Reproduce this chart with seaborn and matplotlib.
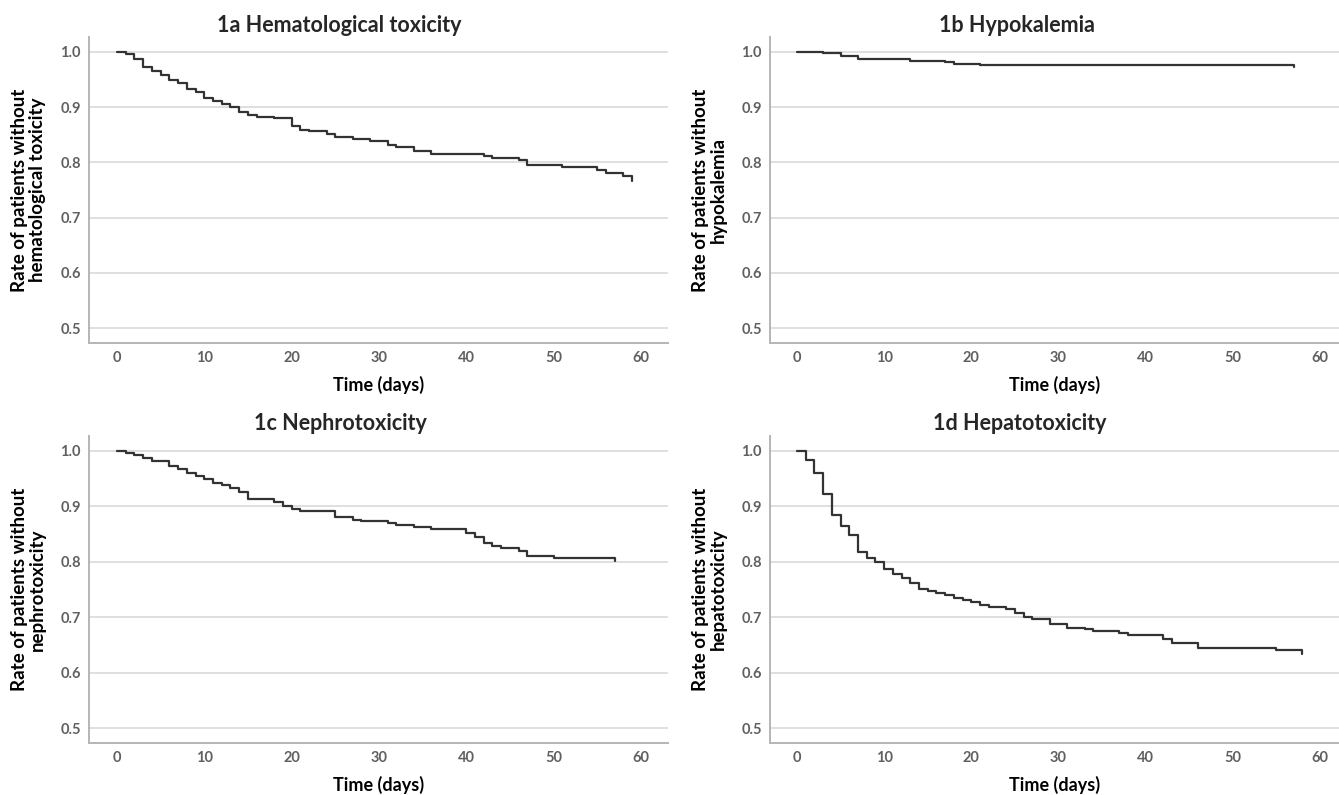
import pandas as pd
import matplotlib
matplotlib.use('Agg')
import matplotlib.pyplot as plt
import seaborn as sns

# Kaplan-Meier step values (day of step, survival after step)
hema_days = [0, 1, 2, 3, 4, 5, 6, 7, 8, 9, 10, 11, 12, 13, 14, 15, 16, 18, 20, 21, 22, 24, 25,
             27, 29, 31, 32, 34, 36, 42, 43, 46, 47, 51, 55, 56, 58, 59]
hema_surv = [1.0, 0.996, 0.987, 0.973, 0.966, 0.958, 0.949, 0.943, 0.933, 0.927, 0.916, 0.912,
             0.906, 0.900, 0.892, 0.886, 0.883, 0.880, 0.866, 0.859, 0.856, 0.851, 0.846, 0.843,
             0.839, 0.831, 0.827, 0.821, 0.815, 0.811, 0.808, 0.804, 0.795, 0.791, 0.786, 0.780,
             0.776, 0.767]

hypo_days = [0, 3, 5, 7, 13, 14, 17, 18, 21, 57]
hypo_surv = [1.0, 0.998, 0.992, 0.988, 0.984, 0.983, 0.981, 0.979, 0.976, 0.972]

nephro_days = [0, 1, 2, 3, 4, 6, 7, 8, 9, 10, 11, 12, 13, 14, 15, 18, 19, 20, 21, 25, 27, 28,
               31, 32, 34, 36, 40, 41, 42, 43, 44, 46, 47, 50, 57]
nephro_surv = [1.0, 0.997, 0.993, 0.987, 0.982, 0.973, 0.967, 0.961, 0.955, 0.949, 0.942, 0.938,
               0.934, 0.926, 0.913, 0.908, 0.901, 0.896, 0.892, 0.881, 0.876, 0.873, 0.870, 0.866,
               0.863, 0.860, 0.852, 0.845, 0.834, 0.829, 0.825, 0.820, 0.811, 0.807, 0.802]

hepato_days = [0, 1, 2, 3, 4, 5, 6, 7, 8, 9, 10, 11, 12, 13, 14, 15, 16, 17, 18, 19, 20, 21, 22,
               24, 25, 26, 27, 29, 31, 33, 34, 37, 38, 42, 43, 46, 55, 58]
hepato_surv = [1.0, 0.984, 0.960, 0.923, 0.884, 0.864, 0.848, 0.817, 0.807, 0.799, 0.787, 0.778,
               0.771, 0.762, 0.751, 0.747, 0.743, 0.740, 0.735, 0.731, 0.727, 0.722, 0.718, 0.715,
               0.707, 0.701, 0.697, 0.688, 0.681, 0.678, 0.675, 0.672, 0.667, 0.661, 0.653, 0.645,
               0.641, 0.634]

titles = ['1a Hematological toxicity', '1b Hypokalemia', '1c Nephrotoxicity', '1d Hepatotoxicity']
ylabels = ['Rate of patients without\nhematological toxicity',
           'Rate of patients without\nhypokalemia',
           'Rate of patients without\nnephrotoxicity',
           'Rate of patients without\nhepatotoxicity']
xticks = [0, 10, 20, 30, 40, 50, 60]
yticks = [0.5, 0.6, 0.7, 0.8, 0.9, 1.0]

series = [(hema_days, hema_surv), (hypo_days, hypo_surv),
          (nephro_days, nephro_surv), (hepato_days, hepato_surv)]

sns.set_style('whitegrid')
plt.rcParams['font.family'] = ['Lato', 'DejaVu Sans']

W, H = 1339, 795
fig = plt.figure(figsize=(W / 100, H / 100), dpi=100)

# panel boxes in pixels: left, top, right, bottom
boxes = [(89, 37, 668, 343), (770, 37, 1339, 343),
         (89, 436, 668, 743), (770, 436, 1339, 743)]
xlims = [(-3.2, 63.1), (-3.1, 62.2), (-3.2, 63.1), (-3.1, 62.2)]
title_pos = [(339, 25), (1017, 25), (340, 424), (1020, 424)]

for i, (days, surv) in enumerate(series):
    l, t, r, b = boxes[i]
    ax = fig.add_axes([l / W, 1 - b / H, (r - l) / W, (b - t) / H])
    df = pd.DataFrame({'day': days, 'surv': surv})
    sns.lineplot(data=df, x='day', y='surv', drawstyle='steps-post',
                 color='#333333', linewidth=1.6, ax=ax)
    ax.set_xlim(*xlims[i])
    ax.set_ylim(0.473, 1.027)
    ax.set_xticks(xticks)
    ax.set_yticks(yticks)
    ax.set_yticklabels([f'{v:.1f}' for v in yticks])
    ax.grid(axis='x', visible=False)
    ax.grid(axis='y', color='#d9d9d9', linewidth=1.2)
    for side in ['top', 'right']:
        ax.spines[side].set_visible(False)
    for side in ['left', 'bottom']:
        ax.spines[side].set_color('#b5b5b5')
        ax.spines[side].set_linewidth(1.4)
    ax.tick_params(axis='both', length=0, labelsize=10.5, labelcolor='#606060', pad=6)
    for lab in ax.get_xticklabels() + ax.get_yticklabels():
        lab.set_fontweight('bold')
    ax.set_xlabel('Time (days)', fontsize=13, fontweight='bold', color='black')
    ax.xaxis.set_label_coords(0.5, -33 / (b - t))
    ax.set_ylabel(ylabels[i], fontsize=13.5, fontweight='bold', color='black', linespacing=1.1)
    ax.yaxis.set_label_coords(-43 / (r - l), 0.5)
    fig.text(title_pos[i][0] / W, 1 - title_pos[i][1] / H, titles[i],
             ha='center', va='center', fontsize=15.5, fontweight='bold')

fig.savefig('out.png', dpi=100)
